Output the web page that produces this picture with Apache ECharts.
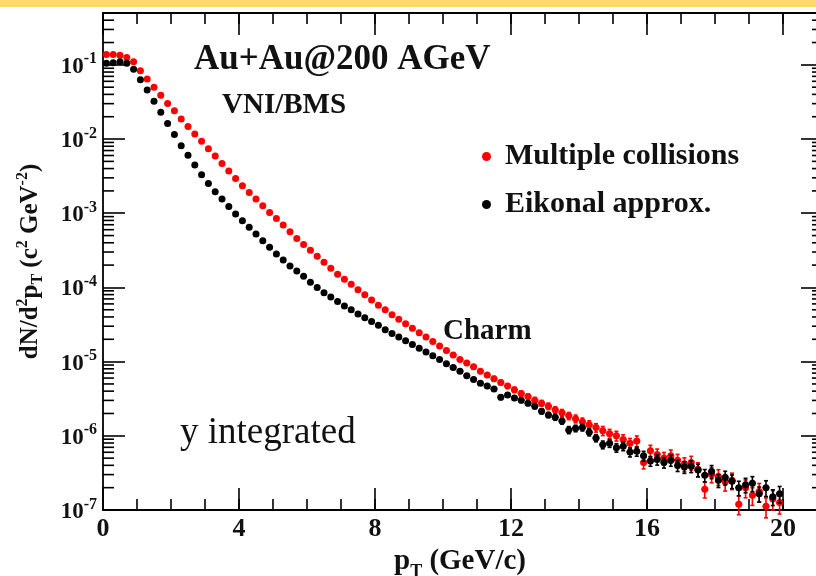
<!DOCTYPE html>
<html>
<head>
<meta charset="utf-8">
<script src="https://cdn.jsdelivr.net/npm/echarts@6/dist/echarts.min.js"></script>
<style>
  html, body { margin: 0; padding: 0; background: #ffffff; }
  #chart { width: 816px; height: 576px; }
</style>
</head>
<body>
<div id="chart"></div>
<script>
// Charm pT spectra, Au+Au at 200 AGeV (VNI/BMS), 0.2 GeV/c bins centred at 0.1, 0.3, ... 19.9
const ptCenters = [
  0.1, 0.3, 0.5, 0.7, 0.9, 1.1, 1.3, 1.5, 1.7, 1.9,
  2.1, 2.3, 2.5, 2.7, 2.9, 3.1, 3.3, 3.5, 3.7, 3.9,
  4.1, 4.3, 4.5, 4.7, 4.9, 5.1, 5.3, 5.5, 5.7, 5.9,
  6.1, 6.3, 6.5, 6.7, 6.9, 7.1, 7.3, 7.5, 7.7, 7.9,
  8.1, 8.3, 8.5, 8.7, 8.9, 9.1, 9.3, 9.5, 9.7, 9.9,
  10.1, 10.3, 10.5, 10.7, 10.9, 11.1, 11.3, 11.5, 11.7, 11.9,
  12.1, 12.3, 12.5, 12.7, 12.9, 13.1, 13.3, 13.5, 13.7, 13.9,
  14.1, 14.3, 14.5, 14.7, 14.9, 15.1, 15.3, 15.5, 15.7, 15.9,
  16.1, 16.3, 16.5, 16.7, 16.9, 17.1, 17.3, 17.5, 17.7, 17.9,
  18.1, 18.3, 18.5, 18.7, 18.9, 19.1, 19.3, 19.5, 19.7, 19.9
];

// Multiple collisions
const multipleCollisions = [
  1.38e-1, 1.38e-1, 1.35e-1, 1.26e-1, 1.10e-1, 8.32e-2, 6.46e-2, 5.01e-2, 3.89e-2, 3.02e-2,
  2.40e-2, 1.86e-2, 1.48e-2, 1.17e-2, 9.33e-3, 7.41e-3, 5.89e-3, 4.68e-3, 3.72e-3, 2.95e-3,
  2.34e-3, 1.91e-3, 1.55e-3, 1.26e-3, 1.02e-3, 8.51e-4, 6.92e-4, 5.62e-4, 4.57e-4, 3.80e-4,
  3.16e-4, 2.63e-4, 2.19e-4, 1.82e-4, 1.51e-4, 1.29e-4, 1.10e-4, 9.33e-5, 7.94e-5, 6.76e-5,
  5.75e-5, 5.01e-5, 4.27e-5, 3.72e-5, 3.24e-5, 2.82e-5, 2.45e-5, 2.14e-5, 1.86e-5, 1.62e-5,
  1.41e-5, 1.23e-5, 1.07e-5, 9.55e-6, 8.51e-6, 7.41e-6, 6.61e-6, 5.89e-6, 5.25e-6, 4.68e-6,
  4.17e-6, 3.72e-6, 3.39e-6, 3.02e-6, 2.75e-6, 2.51e-6, 2.24e-6, 2.04e-6, 1.86e-6, 1.70e-6,
  1.55e-6, 1.41e-6, 1.29e-6, 1.17e-6, 1.07e-6, 1.00e-6, 8.91e-7, 7.94e-7, 8.51e-7, 4.37e-7,
  6.31e-7, 5.62e-7, 5.01e-7, 5.37e-7, 4.68e-7, 4.17e-7, 4.37e-7, 3.55e-7, 1.91e-7, 3.02e-7,
  2.82e-7, 2.40e-7, 2.51e-7, 1.20e-7, 2.00e-7, 1.58e-7, 1.78e-7, 1.12e-7, 1.41e-7, 1.26e-7
];

// Eikonal approximation
const eikonalApprox = [
  1.05e-1, 1.07e-1, 1.10e-1, 1.05e-1, 8.71e-2, 6.31e-2, 4.57e-2, 3.24e-2, 2.29e-2, 1.62e-2,
  1.15e-2, 8.13e-3, 6.03e-3, 4.47e-3, 3.31e-3, 2.51e-3, 1.95e-3, 1.55e-3, 1.23e-3, 9.77e-4,
  7.94e-4, 6.46e-4, 5.25e-4, 4.27e-4, 3.47e-4, 2.82e-4, 2.34e-4, 1.95e-4, 1.66e-4, 1.41e-4,
  1.17e-4, 1.00e-4, 8.51e-5, 7.41e-5, 6.46e-5, 5.62e-5, 5.01e-5, 4.37e-5, 3.89e-5, 3.47e-5,
  3.09e-5, 2.69e-5, 2.40e-5, 2.14e-5, 1.91e-5, 1.70e-5, 1.51e-5, 1.35e-5, 1.20e-5, 1.07e-5,
  9.33e-6, 8.32e-6, 7.41e-6, 6.46e-6, 5.75e-6, 5.13e-6, 4.68e-6, 4.27e-6, 3.31e-6, 3.55e-6,
  3.24e-6, 3.02e-6, 2.75e-6, 2.51e-6, 2.14e-6, 1.91e-6, 1.78e-6, 1.58e-6, 1.20e-6, 1.26e-6,
  1.29e-6, 1.12e-6, 9.33e-7, 7.59e-7, 7.94e-7, 6.92e-7, 7.24e-7, 6.03e-7, 6.17e-7, 5.37e-7,
  4.57e-7, 4.79e-7, 4.37e-7, 4.68e-7, 3.98e-7, 3.80e-7, 3.89e-7, 3.47e-7, 2.95e-7, 3.31e-7,
  2.51e-7, 2.75e-7, 2.45e-7, 2.00e-7, 2.19e-7, 2.29e-7, 1.66e-7, 2.00e-7, 1.51e-7, 1.66e-7
];

// relative statistical errors for the bins from 10.1 GeV/c upward
const errorFromBin = 50;
const multipleCollisionsRelErr = [
  0.04, 0.05, 0.05, 0.05, 0.06, 0.06, 0.06, 0.07, 0.07, 0.07,
  0.08, 0.08, 0.08, 0.09, 0.09, 0.10, 0.10, 0.11, 0.11, 0.12,
  0.12, 0.13, 0.13, 0.14, 0.14, 0.15, 0.16, 0.16, 0.17, 0.18,
  0.18, 0.18, 0.19, 0.20, 0.20, 0.21, 0.21, 0.22, 0.24, 0.23,
  0.24, 0.25, 0.25, 0.28, 0.27, 0.27, 0.28, 0.30, 0.29, 0.30
];
const eikonalApproxRelErr = [
  0.04, 0.04, 0.05, 0.05, 0.05, 0.05, 0.06, 0.06, 0.07, 0.06,
  0.07, 0.07, 0.07, 0.08, 0.08, 0.08, 0.09, 0.09, 0.11, 0.10,
  0.10, 0.11, 0.11, 0.12, 0.12, 0.13, 0.13, 0.14, 0.14, 0.15,
  0.15, 0.16, 0.16, 0.17, 0.17, 0.18, 0.18, 0.19, 0.19, 0.20,
  0.20, 0.21, 0.21, 0.22, 0.22, 0.23, 0.23, 0.24, 0.24, 0.25
];

const halfBin = 0.1;
const xTickLabels = ['0', '4', '8', '12', '16', '20'];
const yMinorMultipliers = [2, 3, 4, 5, 6, 7, 8, 9];
const yDecades = [-7, -6, -5, -4, -3, -2, -1];

const SERIF = '"Liberation Serif", "DejaVu Serif", serif';
const INK = '#111111';

function points(values) {
  return ptCenters.map((x, i) => [x, values[i]]);
}
function errorBars(values, relErr) {
  const out = [];
  for (let i = errorFromBin; i < ptCenters.length; i++) {
    const y = values[i];
    const e = relErr[i - errorFromBin];
    out.push([ptCenters[i], y, y * (1 - e), y * (1 + e)]);
  }
  return out;
}
function renderErrorBar(color) {
  return function (params, api) {
    const x = api.value(0), y = api.value(1);
    const c = api.coord([x, y]);
    const lo = api.coord([x, api.value(2)]);
    const hi = api.coord([x, api.value(3)]);
    const l = api.coord([x - halfBin, y]);
    const r = api.coord([x + halfBin, y]);
    const style = { stroke: color, lineWidth: 1.6 };
    return {
      type: 'group',
      children: [
        { type: 'line', shape: { x1: c[0], y1: lo[1], x2: c[0], y2: hi[1] }, style },
        { type: 'line', shape: { x1: l[0], y1: c[1], x2: r[0], y2: c[1] }, style },
        { type: 'line', shape: { x1: c[0] - 2, y1: lo[1], x2: c[0] + 2, y2: lo[1] }, style },
        { type: 'line', shape: { x1: c[0] - 2, y1: hi[1], x2: c[0] + 2, y2: hi[1] }, style }
      ]
    };
  };
}

// minor ticks of the log axis at 2..9 x 10^n, on both frame sides
const yMinorTicks = [];
yDecades.forEach(d => yMinorMultipliers.forEach(m => {
  const v = m * Math.pow(10, d);
  if (v < 0.5) yMinorTicks.push([0, v]);
}));

const X_MAX = 21;

const chart = echarts.init(document.getElementById('chart'), null, { renderer: 'canvas' });

const labelFont = { fontFamily: SERIF, fontWeight: 'bold', color: INK };
const tickStyle = { color: '#000', width: 1.6 };

chart.setOption({
  animation: false,
  backgroundColor: '#ffffff',
  grid: {
    show: true, borderColor: '#000', borderWidth: 1.8, backgroundColor: 'transparent',
    left: 103, top: 13, right: -1, bottom: 66,
    containLabel: false, outerBoundsMode: 'none'
  },
  legend: {
    orient: 'vertical',
    left: 477,
    top: 136,
    itemGap: 17,
    itemWidth: 9,
    itemHeight: 9,
    icon: 'circle',
    data: ['Multiple collisions', 'Eikonal approx.'],
    textStyle: { fontFamily: SERIF, fontWeight: 'bold', fontSize: 30, lineHeight: 31, color: INK, padding: [0, 0, 0, 9] }
  },
  xAxis: [
    {
      type: 'value', position: 'bottom', min: 0, max: X_MAX, interval: 4,
      axisLine: { show: false, onZero: false },
      axisTick: { inside: true, length: 22, lineStyle: tickStyle },
      axisLabel: {
        ...labelFont, fontSize: 26, margin: 6, showMaxLabel: false,
        formatter: v => (v % 4 === 0 && xTickLabels[v / 4] !== undefined) ? xTickLabels[v / 4] : ''
      },
      splitLine: { show: false },
      name: '{b|p}{s|T}{b| (GeV/c)}',
      nameLocation: 'middle', nameGap: 25,
      nameTextStyle: {
        rich: {
          b: { ...labelFont, fontSize: 29, lineHeight: 34, verticalAlign: 'top' },
          s: { ...labelFont, fontSize: 18, lineHeight: 34, verticalAlign: 'bottom' }
        }
      }
    },
    {
      type: 'value', position: 'bottom', min: 0, max: X_MAX, interval: 1,
      axisLine: { show: false, onZero: false },
      axisTick: { inside: true, length: 11, lineStyle: tickStyle },
      axisLabel: { show: false }, splitLine: { show: false }
    },
    {
      type: 'value', position: 'top', min: 0, max: X_MAX, interval: 4,
      axisLine: { show: false, onZero: false },
      axisTick: { inside: true, length: 22, lineStyle: tickStyle },
      axisLabel: { show: false }, splitLine: { show: false }
    },
    {
      type: 'value', position: 'top', min: 0, max: X_MAX, interval: 1,
      axisLine: { show: false, onZero: false },
      axisTick: { inside: true, length: 11, lineStyle: tickStyle },
      axisLabel: { show: false }, splitLine: { show: false }
    }
  ],
  yAxis: [
    {
      type: 'log', logBase: 10, position: 'left', min: 1e-7, max: 0.5,
      axisLine: { show: false, onZero: false },
      axisTick: { inside: true, length: 22, lineStyle: tickStyle },
      axisLabel: {
        margin: 6, showMaxLabel: false,
        formatter: v => '{b|10}{s|' + Math.round(Math.log10(v)) + '}',
        rich: {
          b: { ...labelFont, fontSize: 23, lineHeight: 27, verticalAlign: 'bottom' },
          s: { ...labelFont, fontSize: 16, lineHeight: 27, verticalAlign: 'top' }
        }
      },
      splitLine: { show: false },
      name: '{b|dN/d}{sup|2}{b|p}{sub|T}{b| (c}{sup|2}{b| GeV}{sup|-2}{b|)}',
      nameLocation: 'middle', nameRotate: 90, nameGap: 57,
      nameTextStyle: {
        rich: {
          b: { ...labelFont, fontSize: 25, lineHeight: 31 },
          sup: { ...labelFont, fontSize: 16, lineHeight: 31, verticalAlign: 'top' },
          sub: { ...labelFont, fontSize: 16, lineHeight: 31, verticalAlign: 'bottom' }
        }
      }
    },
    {
      type: 'log', logBase: 10, position: 'right', min: 1e-7, max: 0.5,
      axisLine: { show: false, onZero: false },
      axisTick: { inside: true, length: 16, lineStyle: tickStyle },
      axisLabel: { show: false }, splitLine: { show: false }
    }
  ],
  series: [
    {
      type: 'custom', name: 'minor ticks', silent: true, z: 1,
      xAxisIndex: 0, yAxisIndex: 0,
      data: yMinorTicks,
      renderItem: function (params, api) {
        const v = api.value(1);
        const left = api.coord([0, v]);
        const right = api.coord([X_MAX, v]);
        const style = { stroke: '#000', lineWidth: 1.6 };
        return {
          type: 'group',
          children: [
            { type: 'line', shape: { x1: left[0], y1: left[1], x2: left[0] + 11, y2: left[1] }, style },
            { type: 'line', shape: { x1: right[0] - 5, y1: right[1], x2: right[0], y2: right[1] }, style }
          ]
        };
      }
    },
    {
      type: 'custom', name: 'Multiple collisions err', silent: true, z: 2,
      data: errorBars(multipleCollisions, multipleCollisionsRelErr),
      renderItem: renderErrorBar('#ff0000')
    },
    {
      type: 'scatter', name: 'Multiple collisions', z: 3,
      data: points(multipleCollisions),
      symbol: 'circle', symbolSize: 7,
      itemStyle: { color: '#ff0000', opacity: 1 }
    },
    {
      type: 'custom', name: 'Eikonal approx. err', silent: true, z: 4,
      data: errorBars(eikonalApprox, eikonalApproxRelErr),
      renderItem: renderErrorBar('#000000')
    },
    {
      type: 'scatter', name: 'Eikonal approx.', z: 5,
      data: points(eikonalApprox),
      symbol: 'circle', symbolSize: 7,
      itemStyle: { color: '#000000', opacity: 1 }
    }
  ],
  graphic: [
    { type: 'rect', left: 0, top: 0, shape: { width: 816, height: 7 }, style: { fill: '#ffd966' }, z: 100 },
    { type: 'text', left: 194, top: 42, style: { text: 'Au+Au@200 AGeV', font: 'bold 35px ' + SERIF, fill: INK } },
    { type: 'text', left: 222, top: 91, style: { text: 'VNI/BMS', font: 'bold 29px ' + SERIF, fill: INK } },
    { type: 'text', left: 443, top: 317, style: { text: 'Charm', font: 'bold 29px ' + SERIF, fill: INK } },
    { type: 'text', left: 180, top: 415, style: { text: 'y integrated', font: '37px ' + SERIF, fill: INK } }
  ]
});
</script>
</body>
</html>
